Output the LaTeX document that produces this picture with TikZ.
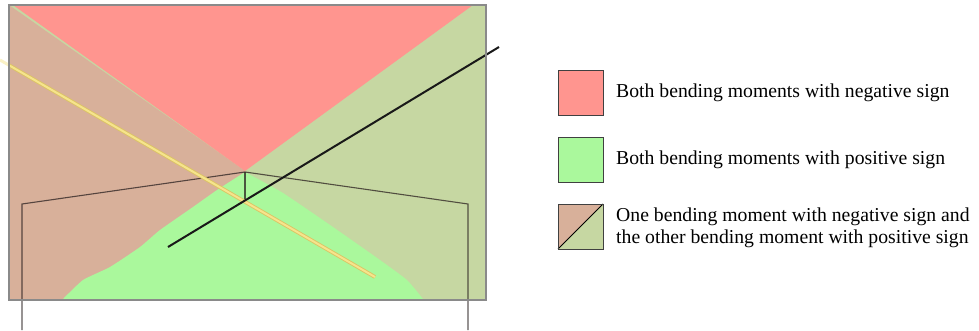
\documentclass[tikz,border=0pt]{standalone}
\usepackage{fontspec}
\setmainfont{Liberation Serif}
\usetikzlibrary{calc}
\definecolor{negred}{HTML}{FF958F}
\definecolor{posgreen}{HTML}{AAF89C}
\definecolor{mixbrown}{HTML}{D8B09A}
\definecolor{mixolive}{HTML}{C6D7A2}
\definecolor{framegray}{HTML}{8A8A8A}
\definecolor{structline}{HTML}{2A2020}
\definecolor{yline}{HTML}{F6E48C}
\definecolor{yedge}{HTML}{DCC464}
\begin{document}
\begin{tikzpicture}[x=1pt,y=-1pt,
  legbox/.style={draw=black!75,line width=0.9pt,minimum width=45pt,minimum height=45pt,inner sep=0pt,outer sep=0pt},
  legtext/.style={anchor=west,inner sep=0pt,font=\fontsize{19.7}{21.7}\selectfont,align=left},
  frameline/.style={draw=structline,draw opacity=0.75,line width=1.1pt},
  region/.style={draw=none}]
\useasboundingbox (0,0) rectangle (979,330);
% corners of the panel
\coordinate (tl) at (9,5);
\coordinate (tr) at (486,5);
\coordinate (br) at (486,300);
\coordinate (bl) at (9,300);
\coordinate (apex) at (245,171);
% regions
\fill[mixolive] (tl) rectangle (br);
\fill[mixbrown] (tl) -- (apex) -- (245,300) -- (bl) -- cycle;
\fill[negred] (13,5) -- (473,5) -- (apex) -- cycle;
\fill[posgreen] plot[smooth,tension=0.3] coordinates {(245,172) (217,190) (193,207) (160,230) (140,247) (110,267) (83,280) (63,299)}
  -- (423,299) plot[smooth,tension=0.3] coordinates {(423,299) (407,280) (380,260) (333,227) (283,193) (245,172)} -- cycle;
% structure
\coordinate (lc) at (22,330);
\coordinate (lk) at (22,204);
\coordinate (rk) at (468,204);
\coordinate (rc) at (468,330);
\coordinate (ridge) at (245,172);
\coordinate (node) at (245,200);
\draw[frameline] (lc) -- (lk) -- (ridge) -- (rk) -- (rc);
\draw[frameline] (ridge) -- (node);
% yellow and black lines
\coordinate (y1) at (0,60);
\coordinate (y2) at (375,277);
\coordinate (y1b) at ($(y1)!0.025!(y2)$);
\draw[yline!50,line width=3pt] (y1) -- (y1b);
\draw[yedge,line width=3.8pt] (y1b) -- (y2);
\draw[yline,line width=2pt] (y1b) -- (y2);
\coordinate (b1) at (168,247);
\coordinate (b2) at (499,47);
\draw[black!90,line width=2pt] (b1) -- (b2);
% panel border
\draw[framegray,line width=1.2pt] (tl) rectangle (br);
% legend
\node[legbox,fill=negred] (leg1) at (580.5,92.5) {};
\node[legbox,fill=posgreen] (leg2) at (580.5,159.5) {};
\node[legbox] (leg3) at (580.5,226.5) {};
\fill[mixbrown] (leg3.south west) -- (leg3.north west) -- (leg3.north east) -- cycle;
\fill[mixolive] (leg3.south west) -- (leg3.south east) -- (leg3.north east) -- cycle;
\draw[black,line width=0.8pt] (leg3.south west) -- (leg3.north east);
\draw[draw=black!75,line width=0.9pt] (leg3.south west) rectangle (leg3.north east);
\node[legtext] (t1) at (616,93) {Both bending moments with negative sign};
\node[legtext] (t2) at (616,160) {Both bending moments with positive sign};
\node[legtext] (t3) at (616,227.5) {One bending moment with negative sign and\\the other bending moment with positive sign};
\end{tikzpicture}
\end{document}
